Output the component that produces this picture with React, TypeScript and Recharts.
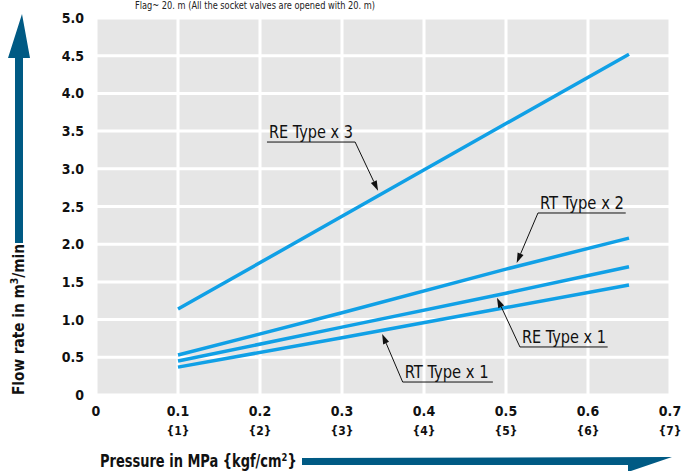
import React from 'react';
import {
  LineChart,
  Line,
  XAxis,
  YAxis,
  CartesianGrid,
  ReferenceLine,
  ReferenceDot,
} from 'recharts';

// pressure in MPa
const pressure = [0.1, 0.3, 0.5, 0.65];
// flow rate in m3/min
const reType3 = [1.14, 2.37, 3.6, 4.52];
const rtType2 = [0.53, 1.09, 1.67, 2.08];
const reType1 = [0.45, 0.9, 1.35, 1.7];
const rtType1 = [0.37, 0.76, 1.16, 1.46];

const xTicks = [0, 0.1, 0.2, 0.3, 0.4, 0.5, 0.6, 0.7];
const yTicks = [0, 0.5, 1, 1.5, 2, 2.5, 3, 3.5, 4, 4.5, 5];

// callouts: text, underline [x1, x2, y], leader from underline end to tip
const callouts = [
  { text: 'RE Type x 3', ux: [0.2085, 0.316], uy: 3.355, from: 0.316, tip: [0.344, 2.71] },
  { text: 'RT Type x 2', ux: [0.539, 0.646], uy: 2.414, from: 0.539, tip: [0.513, 1.75] },
  { text: 'RE Type x 1', ux: [0.517, 0.624], uy: 0.637, from: 0.517, tip: [0.489, 1.29] },
  { text: 'RT Type x 1', ux: [0.374, 0.484], uy: 0.172, from: 0.374, tip: [0.349, 0.81] },
];

const data = pressure.map((p, i) => ({
  p,
  re3: reType3[i],
  rt2: rtType2[i],
  re1: reType1[i],
  rt1: rtType1[i],
}));

const FONT = "'Liberation Sans Narrow', 'DejaVu Sans Condensed', 'Roboto', sans-serif";
const LINE = '#10a0e6';
const ARROW = '#005a84';

function XTick({ x, y, payload }: any) {
  const v = payload.value as number;
  return (
    <g fontFamily={FONT} fontWeight="bold" fill="#111">
      <text x={x} y={y + 21} textAnchor="middle" fontSize={14}>
        {v === 0 ? '0' : v.toFixed(1)}
      </text>
      {v !== 0 && (
        <text x={x} y={y + 40} textAnchor="middle" fontSize={12}>
          {`{${Math.round(v * 10)}}`}
        </text>
      )}
    </g>
  );
}

function YTick({ x, y, payload }: any) {
  const v = payload.value as number;
  return (
    <text x={x} y={y + 5} textAnchor="end" fontSize={14} fontFamily={FONT} fontWeight="bold" fill="#111">
      {v === 0 ? '0' : v.toFixed(1)}
    </text>
  );
}

function Leader({ x1, y1, x2, y2 }: any) {
  const ang = Math.atan2(y2 - y1, x2 - x1);
  const len = 10;
  const w = 3.2;
  const bx = x2 - len * Math.cos(ang);
  const by = y2 - len * Math.sin(ang);
  const px = -Math.sin(ang) * w;
  const py = Math.cos(ang) * w;
  return (
    <g>
      <line x1={x1} y1={y1} x2={bx} y2={by} stroke="#111" strokeWidth={1} />
      <polygon points={`${x2},${y2} ${bx + px},${by + py} ${bx - px},${by - py}`} fill="#111" />
    </g>
  );
}

export default function App() {
  return (
    <div style={{ position: 'absolute', left: 0, top: 0, width: 681, height: 471, background: '#fff' }}>
      <LineChart width={681} height={471} data={data} margin={{ top: 18, right: 11, bottom: 36, left: 36 }}>
        <CartesianGrid fill="#e6e6e6" stroke="#fff" strokeWidth={3} />
        <XAxis
          type="number"
          dataKey="p"
          domain={[0, 0.7]}
          ticks={xTicks}
          axisLine={false}
          tickLine={false}
          tickSize={0}
          tickMargin={0}
          height={40}
          tick={<XTick />}
          interval={0}
        />
        <YAxis
          type="number"
          domain={[0, 5]}
          ticks={yTicks}
          axisLine={false}
          tickLine={false}
          tickSize={0}
          tickMargin={12}
          width={60}
          tick={<YTick />}
          interval={0}
        />
        <Line dataKey="re3" stroke={LINE} strokeWidth={3.5} dot={false} isAnimationActive={false} />
        <Line dataKey="rt2" stroke={LINE} strokeWidth={3.5} dot={false} isAnimationActive={false} />
        <Line dataKey="re1" stroke={LINE} strokeWidth={3.5} dot={false} isAnimationActive={false} />
        <Line dataKey="rt1" stroke={LINE} strokeWidth={3.5} dot={false} isAnimationActive={false} />
        {callouts.map((c) => (
          <ReferenceLine
            key={c.text + '-u'}
            segment={[{ x: c.ux[0], y: c.uy }, { x: c.ux[1], y: c.uy }]}
            stroke="#111"
            strokeWidth={1}
          />
        ))}
        {callouts.map((c) => (
          <ReferenceLine
            key={c.text + '-l'}
            segment={[{ x: c.from, y: c.uy }, { x: c.tip[0], y: c.tip[1] }]}
            shape={<Leader />}
          />
        ))}
        {callouts.map((c) => (
          <ReferenceDot
            key={c.text + '-t'}
            x={c.ux[0]}
            y={c.uy}
            shape={(p: any) => (
              <text
                x={p.cx + 2}
                y={p.cy - 4}
                fontSize={17}
                fontFamily={FONT}
                fill="#111"
                textLength={84}
                lengthAdjust="spacingAndGlyphs"
              >
                {c.text}
              </text>
            )}
          />
        ))}
      </LineChart>
      <svg width={681} height={471} style={{ position: 'absolute', left: 0, top: 0, pointerEvents: 'none' }}>
        <text
          x={135}
          y={9}
          fontSize={11}
          fontFamily={FONT}
          fill="#222"
          textLength={240}
          lengthAdjust="spacingAndGlyphs"
        >
          Flag~ 20. m (All the socket valves are opened with 20. m)
        </text>
        {/* vertical axis arrow */}
        <polygon points="15,243 15,58 8,58 22,14 30,58 23,58 23,243" fill={ARROW} />
        <g transform="translate(24,395) rotate(-90) scale(0.95,1)">
          <text x={0} y={0} fontSize={16} fontWeight="bold" fontFamily={FONT} fill="#111">
            Flow rate in m<tspan dy={-6} fontSize={11}>3</tspan>
            <tspan dy={6}>/min</tspan>
          </text>
        </g>
        {/* horizontal axis arrow */}
        <g transform="translate(100,467) scale(0.85,1)">
          <text x={0} y={0} fontSize={17} fontWeight="bold" fontFamily={FONT} fill="#111">
            Pressure in MPa {'{'}kgf/cm<tspan dy={-6} fontSize={11}>2</tspan>
            <tspan dy={6}>{'}'}</tspan>
          </text>
        </g>
        <polygon points="302,458 672,457 628,472 628,465 302,465" fill={ARROW} />
      </svg>
    </div>
  );
}
